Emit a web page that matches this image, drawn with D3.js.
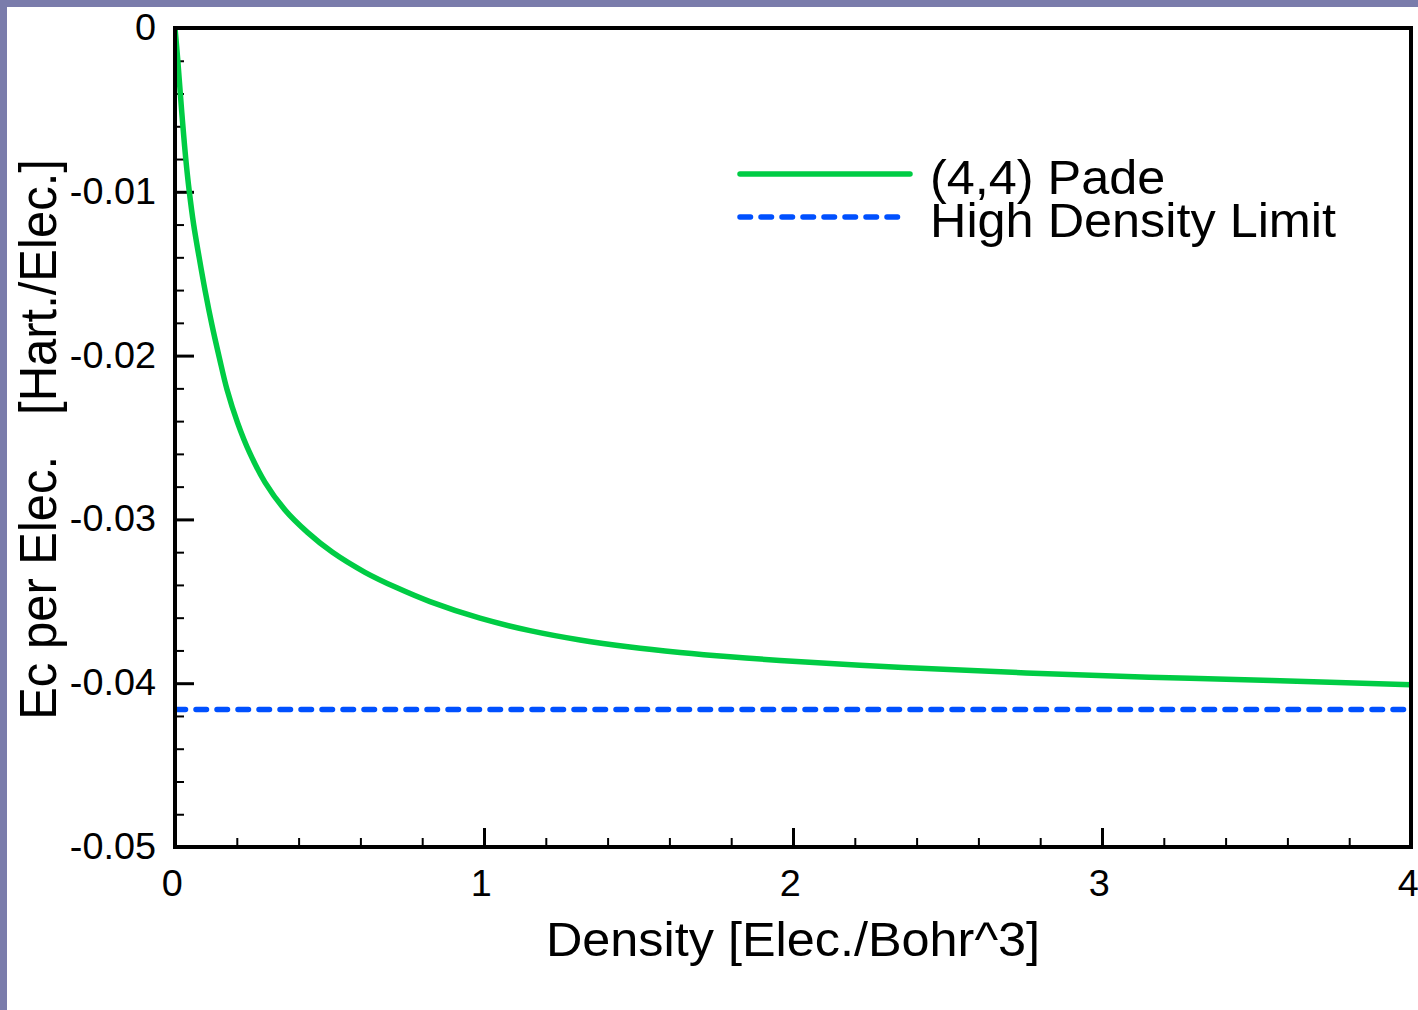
<!DOCTYPE html>
<html>
<head>
<meta charset="utf-8">
<script src="https://cdn.jsdelivr.net/npm/d3@7"></script>
<style>
    body { margin: 0; background: #fff; }
    text { font-family: "Liberation Sans", Arial, Helvetica, sans-serif; fill: #000; }
</style>
</head>
<body>
<div id="chart"></div>
<script>
// values
var densities = [0, 0.0084, 0.0168, 0.0252, 0.0346, 0.046, 0.0605, 0.0783, 0.0981, 0.1194,
    0.1434, 0.1683, 0.2023, 0.2411, 0.2913, 0.3544, 0.4288, 0.5097, 0.6149, 0.7184,
    0.8252, 0.9871, 1.1489, 1.3107, 1.4725, 1.6343, 1.7961, 1.9579, 2.356, 2.754,
    3.152, 3.55, 4.0];
var padeEc = [0, -0.00183, -0.0039, -0.00591, -0.00793, -0.00994, -0.01201, -0.01402, -0.0161, -0.01811,
    -0.02012, -0.02207, -0.02409, -0.02591, -0.02774, -0.02939, -0.03079, -0.03201, -0.03323, -0.03418,
    -0.03502, -0.03603, -0.03679, -0.03736, -0.03779, -0.03812, -0.03839, -0.03861, -0.03904, -0.03937,
    -0.03963, -0.03984, -0.04009];
var highDensityLimit = -0.0416;

var xTicks = [0, 1, 2, 3, 4];
var xMinorTicks = d3.range(0, 20).map(function (i) { return i * 0.2; }).filter(function (v, i) { return i % 5 !== 0; });
var yTicks = [0, -0.01, -0.02, -0.03, -0.04, -0.05];
var yMinorTicks = d3.range(1, 25).map(function (i) { return -i * 0.002; }).filter(function (v, i) { return (i + 1) % 5 !== 0; });
var yTickLabels = ["0", "-0.01", "-0.02", "-0.03", "-0.04", "-0.05"];
var seriesNames = ["(4,4) Pade", "High Density Limit"];

function drawChart() {
    var W = 1418, H = 1010;
    var stretch = 1.05;   // the reference lettering is a little wide
    var margin = {top: 28, right: 7, bottom: 163, left: 175},
        width = W - margin.left - margin.right,
        height = H - margin.top - margin.bottom;

    var root = d3.select("#chart")
        .append("svg")
        .attr("width", W)
        .attr("height", H);

    // purple frame at top and left of the page
    root.append("rect").attr("x", 0).attr("y", 0).attr("width", W).attr("height", 7).attr("fill", "#7a7cab");
    root.append("rect").attr("x", 0).attr("y", 0).attr("width", 7).attr("height", H).attr("fill", "#7a7cab");

    var svg = root.append("g")
        .attr("transform", "translate(" + margin.left + "," + margin.top + ")");

    var x = d3.scaleLinear().domain([0, 4]).range([0, width]);
    var y = d3.scaleLinear().domain([-0.05, 0]).range([height, 0]);

    svg.append("clipPath").attr("id", "plotclip")
        .append("rect").attr("x", 0).attr("y", 0).attr("width", width).attr("height", height);

    // minor ticks
    svg.append("g")
        .attr("transform", "translate(0," + height + ")")
        .call(d3.axisBottom(x).tickValues(xMinorTicks).tickSize(-9).tickFormat(""))
        .call(function (g) { g.select(".domain").remove(); })
        .selectAll("line").attr("stroke-width", 2);
    svg.append("g")
        .call(d3.axisLeft(y).tickValues(yMinorTicks).tickSize(-9).tickFormat(""))
        .call(function (g) { g.select(".domain").remove(); })
        .selectAll("line").attr("stroke-width", 2);

    // major ticks + labels
    var xAxis = svg.append("g")
        .attr("transform", "translate(0," + height + ")")
        .call(d3.axisBottom(x).tickValues(xTicks).tickSize(-19).tickPadding(23).tickFormat(d3.format("d")));
    xAxis.select(".domain").remove();
    xAxis.selectAll("line").attr("stroke-width", 3);
    xAxis.selectAll("text")
        .attr("dx", -3)
        .attr("transform", "scale(" + stretch + ",1)")
        .style("font-size", "36px").style("font-family", null);

    var yAxis = svg.append("g")
        .call(d3.axisLeft(y).tickValues(yTicks).tickSize(-19).tickPadding(19)
            .tickFormat(function (d, i) { return yTickLabels[i]; }));
    yAxis.select(".domain").remove();
    yAxis.selectAll("line").attr("stroke-width", 3);
    yAxis.selectAll("text")
        .attr("x", -19 / stretch)
        .attr("transform", "scale(" + stretch + ",1)")
        .style("font-size", "36px").style("font-family", null);

    // curves
    var padeData = densities.map(function (d, i) { return {x: d, y: padeEc[i]}; });
    var line = d3.line()
        .x(function (d) { return x(d.x); })
        .y(function (d) { return y(d.y); })
        .curve(d3.curveCatmullRom.alpha(0.5));

    svg.append("path")
        .datum([{x: 0, y: highDensityLimit}, {x: 4, y: highDensityLimit}])
        .attr("clip-path", "url(#plotclip)")
        .attr("fill", "none")
        .attr("stroke", "#0050ff")
        .attr("stroke-width", 5.5)
        .attr("stroke-linecap", "round")
        .attr("stroke-dasharray", "10.5,10.5")
        .attr("d", line);

    svg.append("path")
        .datum(padeData)
        .attr("clip-path", "url(#plotclip)")
        .attr("fill", "none")
        .attr("stroke", "#00cc44")
        .attr("stroke-width", 5.5)
        .attr("d", line);

    // frame
    svg.append("rect")
        .attr("x", 0).attr("y", 0)
        .attr("width", width).attr("height", height)
        .attr("fill", "none")
        .attr("stroke", "#000")
        .attr("stroke-width", 4);

    // legend
    var legend = root.append("g").attr("transform", "translate(740,174)");
    legend.append("line")
        .attr("x1", 0).attr("x2", 170).attr("y1", 0).attr("y2", 0)
        .attr("stroke", "#00cc44").attr("stroke-width", 5.5).attr("stroke-linecap", "round");
    legend.append("line")
        .attr("x1", 0).attr("x2", 160).attr("y1", 43).attr("y2", 43)
        .attr("stroke", "#0050ff").attr("stroke-width", 5.5).attr("stroke-linecap", "round")
        .attr("stroke-dasharray", "10.5,10.5");
    legend.selectAll("text")
        .data(seriesNames)
        .enter()
        .append("text")
        .attr("transform", function (d, i) { return "translate(190," + (20 + i * 43) + ") scale(" + stretch + ",1)"; })
        .style("font-size", "48px")
        .text(function (d) { return d; });

    // axis titles
    root.append("text")
        .attr("text-anchor", "middle")
        .attr("transform", "translate(" + (margin.left + width / 2) + ",956) scale(" + stretch + ",1)")
        .style("font-size", "48px")
        .text("Density [Elec./Bohr^3]");

    root.append("text")
        .attr("text-anchor", "middle")
        .attr("transform", "translate(56," + (margin.top + height / 2 + 2) + ") rotate(-90) scale(1," + stretch + ")")
        .style("font-size", "49px")
        .style("white-space", "pre")
        .text("Ec per Elec.   [Hart./Elec.]");
}

drawChart()
</script>
</body>
</html>
